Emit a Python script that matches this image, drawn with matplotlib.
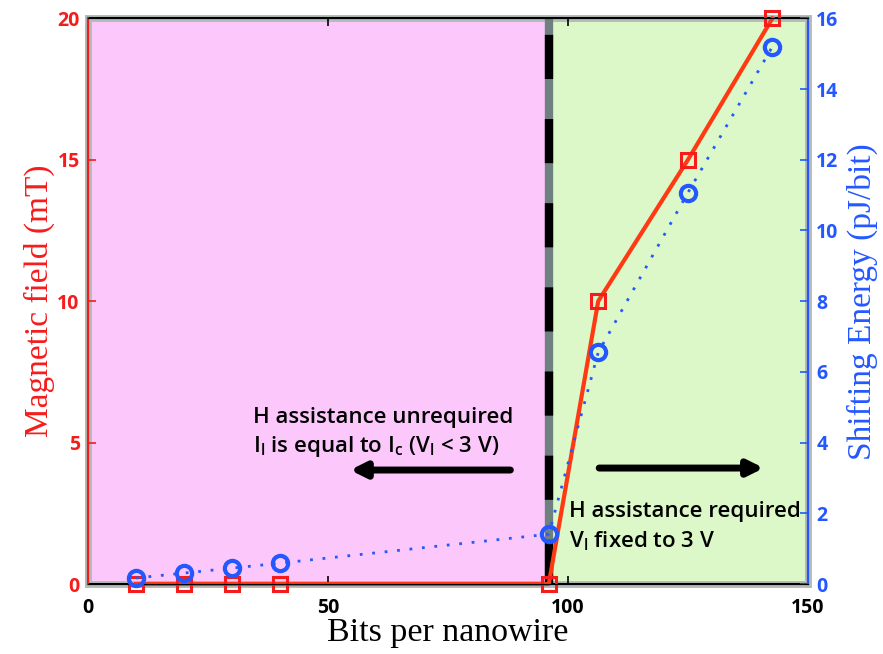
import matplotlib.pyplot as plt
from matplotlib.patches import Rectangle

# data
bits = [10, 20, 30, 40, 96, 106.3, 125, 142.6]
field_mT = [0, 0, 0, 0, 0, 10, 15, 20]
energy_pj = [0.17, 0.31, 0.45, 0.59, 1.41, 6.55, 11.07, 15.2]
threshold_bits = 96

RED = "#f51c1c"
LINE_RED = "#ff3a12"
BLUE = "#2458ff"

fig = plt.figure(figsize=(8.83, 6.54), dpi=100)
ax = fig.add_axes([0.0997, 0.107, 0.8153, 0.865])
ax2 = ax.twinx()

# shaded regions
ax.axvspan(0, threshold_bits, color="#fcc8fc", zorder=0)
ax.axvspan(threshold_bits, 150, color="#dcf8c8", zorder=0)
ax.add_patch(Rectangle((0, 0), 150, 20, fill=False, edgecolor="#b4bcbc",
                       linewidth=5, zorder=1, clip_on=False))

# threshold line: gray band with black dashes
ax.axvline(threshold_bits, color="#6e8080", linewidth=6, zorder=2)
ax.axvline(threshold_bits, color="black", linewidth=6, zorder=3,
           linestyle=(0, (5.3, 4.8)))

ax.plot(bits, field_mT, color=LINE_RED, linewidth=3, marker="s", markersize=10,
        markerfacecolor="none", markeredgecolor=RED, markeredgewidth=2.2,
        zorder=5, clip_on=False)
ax2.plot(bits, energy_pj, color=BLUE, linewidth=2, linestyle=(0, (1, 3.5)),
         marker="o", markersize=11, markerfacecolor="none", markeredgecolor=BLUE,
         markeredgewidth=3, zorder=5, clip_on=False)

ax.set_xlim(0, 150)
ax.set_ylim(0, 20)
ax2.set_ylim(0, 16)
ax.set_xticks([0, 50, 100, 150])
ax.set_yticks([0, 5, 10, 15, 20])
ax2.set_yticks(range(0, 17, 2))

ax.tick_params(axis="x", direction="in", top=True, length=6, width=1.2, pad=10)
ax.tick_params(axis="y", direction="in", length=6, width=1.2, colors=RED, pad=6)
ax2.tick_params(axis="y", direction="in", length=6, width=1.2, colors=BLUE, pad=6)
for lab in ax.get_xticklabels() + ax.get_yticklabels() + ax2.get_yticklabels():
    lab.set_fontsize(14)
    lab.set_fontweight("bold")
    lab.set_family("Open Sans")

for sp in ax.spines.values():
    sp.set_linewidth(1.5)
ax2.spines["left"].set_color(RED)
ax2.spines["right"].set_color(BLUE)
ax2.spines["left"].set_linewidth(1.5)
ax2.spines["right"].set_linewidth(1.5)

serif = ["Liberation Serif", "DejaVu Serif"]
ax.set_xlabel("Bits per nanowire", fontsize=24.5, family=serif, labelpad=0)
ax.set_ylabel("Magnetic field (mT)", fontsize=24, family=serif, color=RED, labelpad=2)
ax2.set_ylabel("Shifting Energy (pJ/bit)", fontsize=24, family=serif, color=BLUE,
               labelpad=6)

txt = dict(fontsize=16, family="Open Sans", fontweight="semibold", color="black",
           zorder=6)
ax.text(34.4, 5.87, "H assistance unrequired", va="center", ha="left", **txt)
ax.text(34.4, 4.85, r"I$_\mathregular{l}$ is equal to I$_\mathregular{c}$ "
        r"(V$_\mathregular{l}$ < 3 V)", va="center", ha="left", **txt)
ax.text(100.2, 2.58, "H assistance required", va="center", ha="left", **txt)
ax.text(100.2, 1.52, r"V$_\mathregular{l}$ fixed to 3 V", va="center", ha="left", **txt)

arrow = dict(arrowstyle="-|>,head_length=0.9,head_width=0.45", color="black",
             linewidth=5, shrinkA=0, shrinkB=0)
ax.annotate("", xy=(54.6, 4.03), xytext=(88, 4.03), arrowprops=arrow, zorder=6)
ax.annotate("", xy=(140.8, 4.1), xytext=(106.5, 4.1), arrowprops=arrow, zorder=6)

fig.savefig("out.png", dpi=100)
